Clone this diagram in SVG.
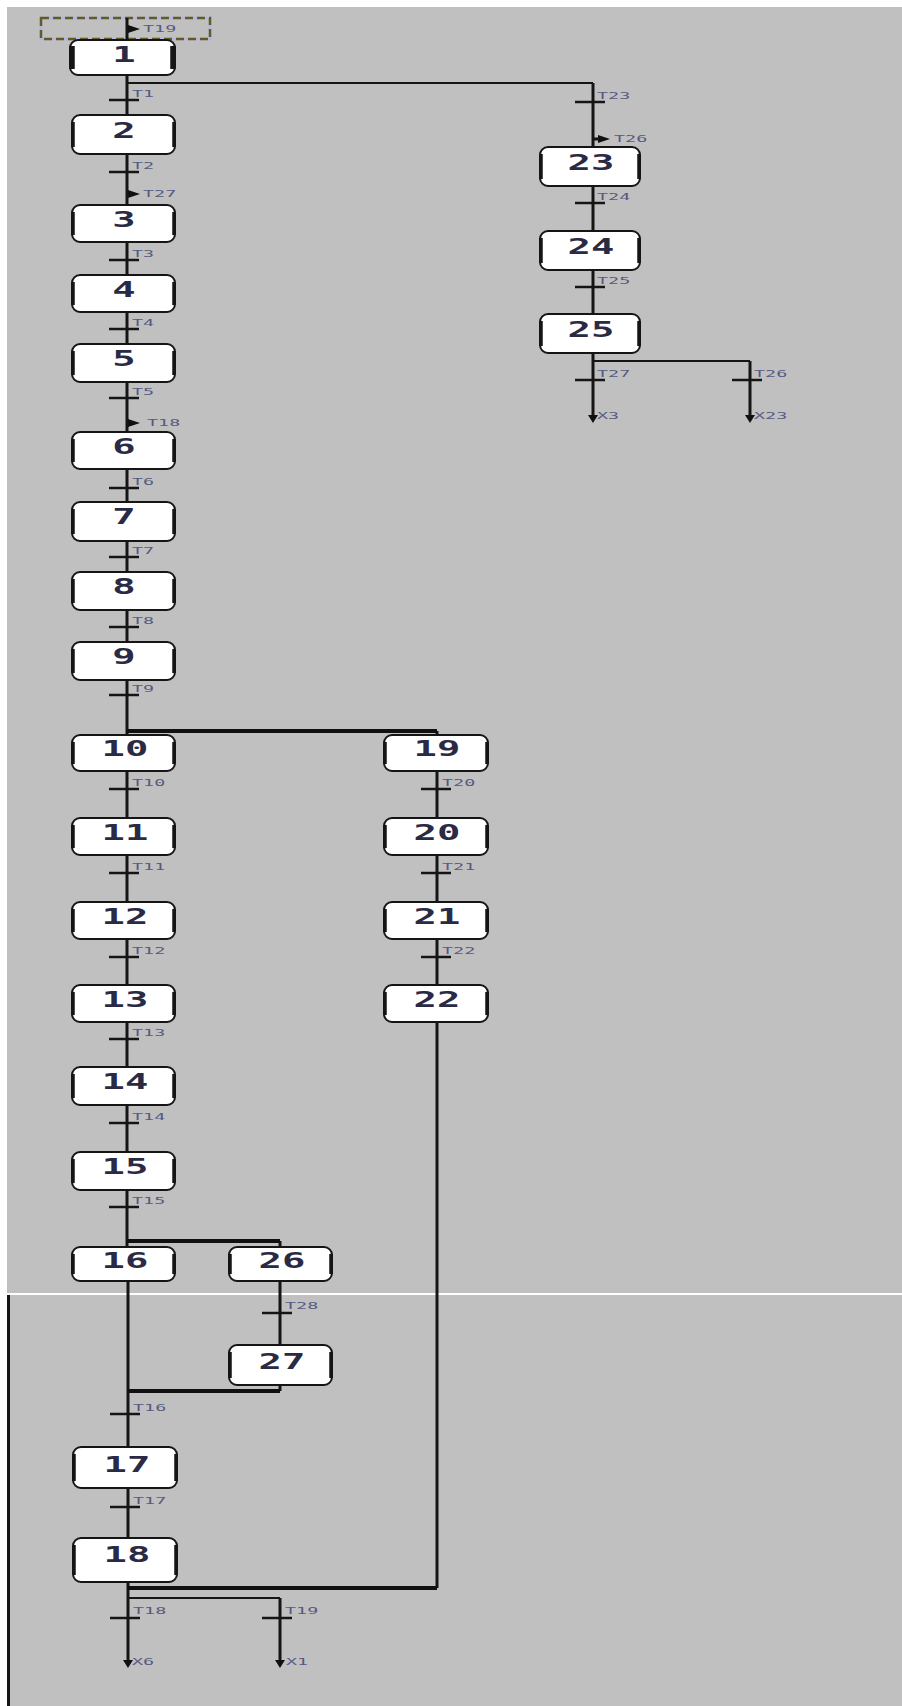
<svg xmlns="http://www.w3.org/2000/svg" width="902" height="1706" viewBox="0 0 902 1706">
<style>
.st{fill:#fff;stroke:#151515;stroke-width:2}
.sd{fill:none;stroke:#151515;stroke-width:3.5}
.sdi{fill:none;stroke:#151515;stroke-width:5.5}
.num{font-family:"DejaVu Sans Mono","Liberation Mono",monospace;font-weight:bold;font-size:21px;fill:#2a2a44;text-anchor:middle}
.lb{font-family:"DejaVu Sans Mono","Liberation Mono",monospace;font-size:8px;fill:#555a82}
.v{fill:none;stroke:#151515;stroke-width:3}
.h{fill:none;stroke:#151515;stroke-width:2}
.hk{fill:none;stroke:#101010;stroke-width:4}
.tb{fill:none;stroke:#151515;stroke-width:2.5}
.ar{fill:#101010}
</style>
<rect x="0" y="0" width="902" height="1706" fill="#ffffff"/>
<rect x="7" y="7" width="895" height="1699" fill="#c0c0c0"/>
<rect x="7" y="1293" width="895" height="2" fill="#ffffff"/>
<rect x="7" y="1295" width="3" height="411" fill="#151515"/>

<g id="initial-frame">
<rect x="41" y="18" width="169" height="21" fill="none" stroke="#b4b4e8" stroke-width="2.5"/>
<rect x="41" y="18" width="169" height="21" fill="none" stroke="#605c24" stroke-width="2.5" stroke-dasharray="8,4"/>
</g>

<g id="connectors">
<path class="v" d="M127,18V40M127,75V115M127,154V205M127,242V275M127,312V344M127,382V432M127,469V502M127,541V572M127,610V642M127,680V735M127,771V818M127,855V902M127,939V985M127,1022V1067M127,1105V1152M127,1190V1247M128,1281V1447M128,1488V1538M128,1582V1661"/>
<path class="v" d="M437,731V735M437,771V818M437,855V902M437,939V985M437,1022V1588"/>
<path class="v" d="M593,83V147M593,186V231M593,270V314M593,353V416M750,361V416"/>
<path class="v" d="M280,1241V1247M280,1281V1345M280,1385V1391M280,1598V1661"/>
<path class="h" d="M127,83H593M593,361H750M128,1598H280"/>
<path class="hk" d="M127,731H437M127,1241H280M128,1391H280M128,1588H437"/>
<path class="tb" d="M109,100H139M109,172H139M109,260H139M109,329H139M109,398H139M109,488H139M109,557H139M109,627H139M109,695H139M109,789H139M109,873H139M109,957H139M109,1039H139M109,1123H139M109,1207H139M110,1414H140M110,1507H140M110,1618H140M262,1618H292M262,1313H292M421,789H451M421,873H451M421,957H451M575,102H605M575,203H605M575,287H605M575,380H605M732,380H762"/>
<path class="ar" d="M128,25L140,29L128,33ZM128,190L140,194L128,198ZM128,419L140,423L128,427ZM598,135L610,139L598,143ZM588,415L598,415L593,423ZM745,415L755,415L750,423ZM123,1660L133,1660L128,1668ZM275,1660L285,1660L280,1668Z"/>
<path class="v" d="M593,139H599"/>
<g class="lb">
<text transform="translate(143,32) scale(2.3,1)">T19</text>
<text transform="translate(143,197) scale(2.3,1)">T27</text>
<text transform="translate(147,426) scale(2.3,1)">T18</text>
<text transform="translate(614,142) scale(2.3,1)">T26</text>
<text transform="translate(597,419) scale(2.3,1)">X3</text>
<text transform="translate(754,419) scale(2.3,1)">X23</text>
<text transform="translate(132,1665) scale(2.3,1)">X6</text>
<text transform="translate(286,1665) scale(2.3,1)">X1</text>
<text transform="translate(132,97) scale(2.3,1)">T1</text>
<text transform="translate(132,169) scale(2.3,1)">T2</text>
<text transform="translate(132,257) scale(2.3,1)">T3</text>
<text transform="translate(132,326) scale(2.3,1)">T4</text>
<text transform="translate(132,395) scale(2.3,1)">T5</text>
<text transform="translate(132,485) scale(2.3,1)">T6</text>
<text transform="translate(132,554) scale(2.3,1)">T7</text>
<text transform="translate(132,624) scale(2.3,1)">T8</text>
<text transform="translate(132,692) scale(2.3,1)">T9</text>
<text transform="translate(132,786) scale(2.3,1)">T10</text>
<text transform="translate(132,870) scale(2.3,1)">T11</text>
<text transform="translate(132,954) scale(2.3,1)">T12</text>
<text transform="translate(132,1036) scale(2.3,1)">T13</text>
<text transform="translate(132,1120) scale(2.3,1)">T14</text>
<text transform="translate(132,1204) scale(2.3,1)">T15</text>
<text transform="translate(133,1411) scale(2.3,1)">T16</text>
<text transform="translate(133,1504) scale(2.3,1)">T17</text>
<text transform="translate(133,1614) scale(2.3,1)">T18</text>
<text transform="translate(285,1614) scale(2.3,1)">T19</text>
<text transform="translate(285,1309) scale(2.3,1)">T28</text>
<text transform="translate(442,786) scale(2.3,1)">T20</text>
<text transform="translate(442,870) scale(2.3,1)">T21</text>
<text transform="translate(442,954) scale(2.3,1)">T22</text>
<text transform="translate(597,99) scale(2.3,1)">T23</text>
<text transform="translate(597,200) scale(2.3,1)">T24</text>
<text transform="translate(597,284) scale(2.3,1)">T25</text>
<text transform="translate(597,377) scale(2.3,1)">T27</text>
<text transform="translate(754,377) scale(2.3,1)">T26</text>
</g>
</g>

<g id="step1"><rect class="st" x="70" y="40" width="105" height="35" rx="8"/><path class="sdi" d="M72,46V69M173,46V69"/><text class="num" transform="translate(124,62) scale(1.85,1)">1</text></g>
<g id="step2"><rect class="st" x="72" y="115" width="103" height="39" rx="8"/><path class="sd" d="M73,122V147M174,122V147"/><text class="num" transform="translate(124,138) scale(1.85,1)">2</text></g>
<g id="step3"><rect class="st" x="72" y="205" width="103" height="37" rx="8"/><path class="sd" d="M73,212V235M174,212V235"/><text class="num" transform="translate(124,227) scale(1.85,1)">3</text></g>
<g id="step4"><rect class="st" x="72" y="275" width="103" height="37" rx="8"/><path class="sd" d="M73,282V305M174,282V305"/><text class="num" transform="translate(124,297) scale(1.85,1)">4</text></g>
<g id="step5"><rect class="st" x="72" y="344" width="103" height="38" rx="8"/><path class="sd" d="M73,351V375M174,351V375"/><text class="num" transform="translate(124,366) scale(1.85,1)">5</text></g>
<g id="step6"><rect class="st" x="72" y="432" width="103" height="37" rx="8"/><path class="sd" d="M73,439V462M174,439V462"/><text class="num" transform="translate(124,454) scale(1.85,1)">6</text></g>
<g id="step7"><rect class="st" x="72" y="502" width="103" height="39" rx="8"/><path class="sd" d="M73,509V534M174,509V534"/><text class="num" transform="translate(124,524) scale(1.85,1)">7</text></g>
<g id="step8"><rect class="st" x="72" y="572" width="103" height="38" rx="8"/><path class="sd" d="M73,579V603M174,579V603"/><text class="num" transform="translate(124,594) scale(1.85,1)">8</text></g>
<g id="step9"><rect class="st" x="72" y="642" width="103" height="38" rx="8"/><path class="sd" d="M73,649V673M174,649V673"/><text class="num" transform="translate(124,664) scale(1.85,1)">9</text></g>
<g id="step10"><rect class="st" x="72" y="735" width="103" height="36" rx="8"/><path class="sd" d="M73,742V764M174,742V764"/><text class="num" transform="translate(125,756) scale(1.85,1)">10</text></g>
<g id="step11"><rect class="st" x="72" y="818" width="103" height="37" rx="8"/><path class="sd" d="M73,825V848M174,825V848"/><text class="num" transform="translate(125,840) scale(1.85,1)">11</text></g>
<g id="step12"><rect class="st" x="72" y="902" width="103" height="37" rx="8"/><path class="sd" d="M73,909V932M174,909V932"/><text class="num" transform="translate(125,924) scale(1.85,1)">12</text></g>
<g id="step13"><rect class="st" x="72" y="985" width="103" height="37" rx="8"/><path class="sd" d="M73,992V1015M174,992V1015"/><text class="num" transform="translate(125,1007) scale(1.85,1)">13</text></g>
<g id="step14"><rect class="st" x="72" y="1067" width="103" height="38" rx="8"/><path class="sd" d="M73,1074V1098M174,1074V1098"/><text class="num" transform="translate(125,1089) scale(1.85,1)">14</text></g>
<g id="step15"><rect class="st" x="72" y="1152" width="103" height="38" rx="8"/><path class="sd" d="M73,1159V1183M174,1159V1183"/><text class="num" transform="translate(125,1174) scale(1.85,1)">15</text></g>
<g id="step16"><rect class="st" x="72" y="1247" width="103" height="34" rx="8"/><path class="sd" d="M73,1254V1274M174,1254V1274"/><text class="num" transform="translate(125,1268) scale(1.85,1)">16</text></g>
<g id="step26"><rect class="st" x="229" y="1247" width="103" height="34" rx="8"/><path class="sd" d="M230,1254V1274M331,1254V1274"/><text class="num" transform="translate(282,1268) scale(1.85,1)">26</text></g>
<g id="step27"><rect class="st" x="229" y="1345" width="103" height="40" rx="8"/><path class="sd" d="M230,1352V1378M331,1352V1378"/><text class="num" transform="translate(282,1369) scale(1.85,1)">27</text></g>
<g id="step17"><rect class="st" x="73" y="1447" width="104" height="41" rx="8"/><path class="sd" d="M74,1454V1481M176,1454V1481"/><text class="num" transform="translate(127,1472) scale(1.85,1)">17</text></g>
<g id="step18"><rect class="st" x="73" y="1538" width="104" height="44" rx="8"/><path class="sd" d="M74,1545V1575M176,1545V1575"/><text class="num" transform="translate(127,1562) scale(1.85,1)">18</text></g>
<g id="step19"><rect class="st" x="384" y="735" width="104" height="36" rx="8"/><path class="sd" d="M385,742V764M487,742V764"/><text class="num" transform="translate(437,756) scale(1.85,1)">19</text></g>
<g id="step20"><rect class="st" x="384" y="818" width="104" height="37" rx="8"/><path class="sd" d="M385,825V848M487,825V848"/><text class="num" transform="translate(437,840) scale(1.85,1)">20</text></g>
<g id="step21"><rect class="st" x="384" y="902" width="104" height="37" rx="8"/><path class="sd" d="M385,909V932M487,909V932"/><text class="num" transform="translate(437,924) scale(1.85,1)">21</text></g>
<g id="step22"><rect class="st" x="384" y="985" width="104" height="37" rx="8"/><path class="sd" d="M385,992V1015M487,992V1015"/><text class="num" transform="translate(437,1007) scale(1.85,1)">22</text></g>
<g id="step23"><rect class="st" x="540" y="147" width="100" height="39" rx="8"/><path class="sd" d="M541,154V179M639,154V179"/><text class="num" transform="translate(591,170) scale(1.85,1)">23</text></g>
<g id="step24"><rect class="st" x="540" y="231" width="100" height="39" rx="8"/><path class="sd" d="M541,238V263M639,238V263"/><text class="num" transform="translate(591,254) scale(1.85,1)">24</text></g>
<g id="step25"><rect class="st" x="540" y="314" width="100" height="39" rx="8"/><path class="sd" d="M541,321V346M639,321V346"/><text class="num" transform="translate(591,337) scale(1.85,1)">25</text></g>
</svg>
